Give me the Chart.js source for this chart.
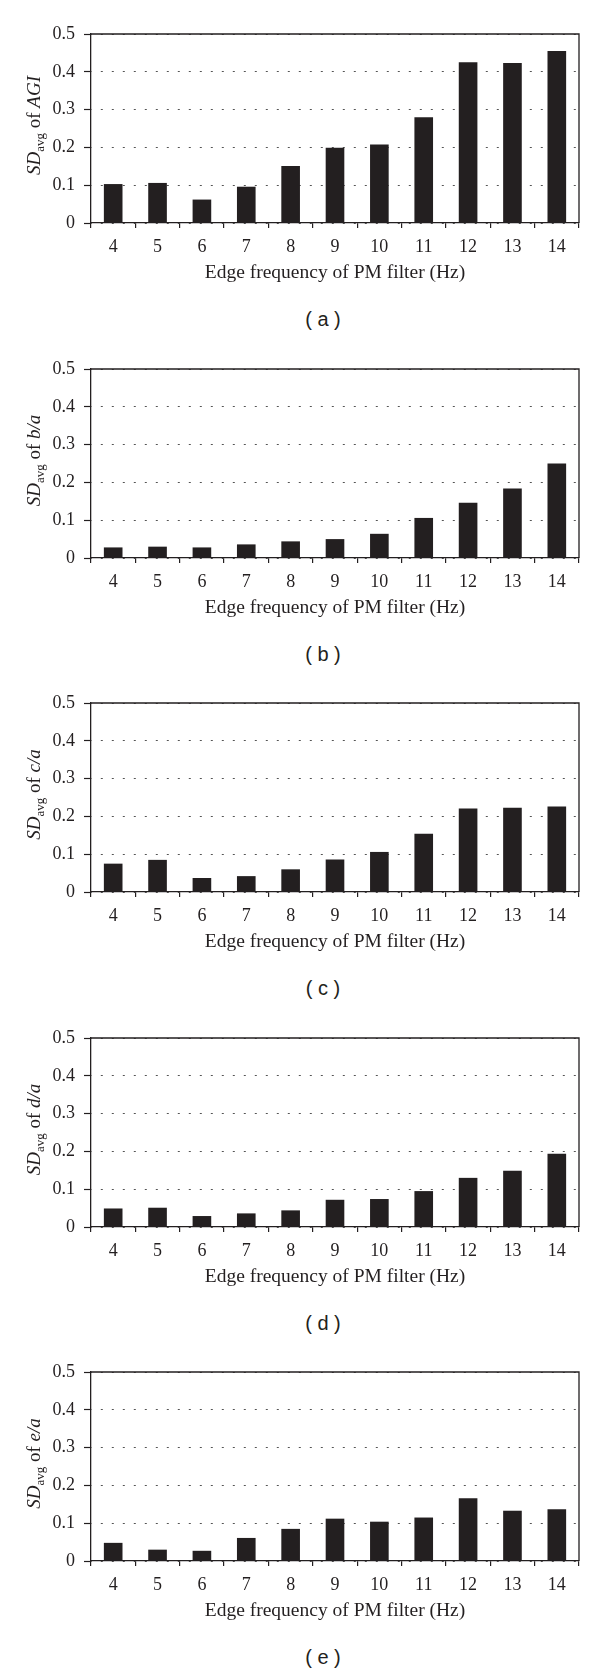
<!DOCTYPE html>
<html>
<head>
<meta charset="utf-8">
<script src="https://cdn.jsdelivr.net/npm/chart.js@4/dist/chart.umd.min.js"></script>
<style>
  body { margin: 0; background: #fff; width: 600px; height: 1677px; position: relative; }
  .panel { position: absolute; left: 0; width: 600px; height: 340px; }
  .panel canvas { position: absolute; left: 0; top: 0; }
  .caption { position: absolute; left: 0; width: 646px; top: 308px; height: 32px; line-height: 32px;
             text-align: center; font: 20px "Liberation Sans", Arial, sans-serif; color: #231f20; }
</style>
</head>
<body>
<script>
// データ
const categories = ["4", "5", "6", "7", "8", "9", "10", "11", "12", "13", "14"];
const sdAgi = [0.103, 0.106, 0.062, 0.096, 0.151, 0.199, 0.208, 0.280, 0.425, 0.423, 0.455];
const sdBa  = [0.028, 0.030, 0.028, 0.036, 0.044, 0.050, 0.064, 0.106, 0.146, 0.184, 0.250];
const sdCa  = [0.075, 0.085, 0.037, 0.042, 0.060, 0.086, 0.106, 0.154, 0.221, 0.223, 0.226];
const sdDa  = [0.049, 0.051, 0.029, 0.036, 0.044, 0.072, 0.074, 0.095, 0.130, 0.149, 0.194];
const sdEa  = [0.048, 0.030, 0.027, 0.061, 0.085, 0.112, 0.104, 0.115, 0.166, 0.133, 0.137];
const yTicks = [0, 0.1, 0.2, 0.3, 0.4, 0.5];
const xTitle = "Edge frequency of PM filter (Hz)";

const panels = [
  { tag: "a", values: sdAgi, of: "AGI" },
  { tag: "b", values: sdBa,  of: "b/a" },
  { tag: "c", values: sdCa,  of: "c/a" },
  { tag: "d", values: sdDa,  of: "d/a" },
  { tag: "e", values: sdEa,  of: "e/a" }
];
const panelTops = [0, 335, 669, 1004, 1338];

const ink = "#231f20";
const serif = "'Liberation Serif', 'DejaVu Serif', serif";

// 枠線（上と右）
const framePlugin = {
  id: "frame",
  afterDraw(chart) {
    const a = chart.chartArea, ctx = chart.ctx;
    ctx.save();
    ctx.strokeStyle = ink;
    ctx.lineWidth = 1.3;
    ctx.beginPath();
    ctx.moveTo(a.left, a.top);
    ctx.lineTo(a.right, a.top);
    ctx.lineTo(a.right, a.bottom);
    ctx.stroke();
    ctx.restore();
  }
};

// 縦軸タイトル SD_avg of ...（斜体・下付きを混ぜるので自前で描く）
const yTitlePlugin = {
  id: "yTitle",
  afterDraw(chart, args, opts) {
    const a = chart.chartArea, ctx = chart.ctx;
    const parts = [
      { t: "SD", f: "italic 19px " + serif, dy: 0 },
      { t: "avg", f: "13px " + serif, dy: 4 },
      { t: " of ", f: "19px " + serif, dy: 0 },
      { t: opts.of, f: "italic 19px " + serif, dy: 0 }
    ];
    let total = 0;
    parts.forEach(p => { ctx.font = p.f; p.w = ctx.measureText(p.t).width; total += p.w; });
    ctx.save();
    ctx.translate(40, (a.top + a.bottom) / 2 - 3);
    ctx.rotate(-Math.PI / 2);
    ctx.fillStyle = ink;
    ctx.textBaseline = "alphabetic";
    let x = -total / 2;
    parts.forEach(p => {
      ctx.font = p.f;
      ctx.fillText(p.t, x, p.dy);
      x += p.w;
    });
    ctx.restore();
  }
};

document.addEventListener("DOMContentLoaded", () => {
  panels.forEach((p, i) => {
    const box = document.createElement("div");
    box.className = "panel";
    box.style.top = panelTops[i] + "px";
    const canvas = document.createElement("canvas");
    canvas.width = 600;
    canvas.height = 300;
    box.appendChild(canvas);
    const cap = document.createElement("div");
    cap.className = "caption";
    cap.textContent = "( " + p.tag + " )";
    box.appendChild(cap);
    document.body.appendChild(box);

    new Chart(canvas.getContext("2d"), {
      type: "bar",
      data: {
        labels: categories,
        datasets: [{
          data: p.values,
          backgroundColor: ink,
          borderWidth: 0,
          barPercentage: 0.42,
          categoryPercentage: 1
        }]
      },
      plugins: [framePlugin, yTitlePlugin],
      options: {
        responsive: false,
        animation: false,
        devicePixelRatio: 1,
        layout: { padding: { top: 34, right: 21, left: 0, bottom: 0 } },
        plugins: {
          legend: { display: false },
          tooltip: { enabled: false },
          yTitle: { of: p.of }
        },
        scales: {
          x: {
            offset: true,
            afterFit: s => { s.height = 77; },
            grid: { display: true, offset: true, drawOnChartArea: false, drawTicks: true,
                    tickLength: 5, color: ink, tickColor: ink, lineWidth: 1.2 },
            border: { display: true, color: ink, width: 1.3 },
            ticks: { color: ink, padding: 8, font: { family: serif, size: 18 }, maxRotation: 0 },
            title: { display: true, text: xTitle, color: ink,
                     font: { family: serif, size: 19.5 }, padding: { top: 0, bottom: 15 } }
          },
          y: {
            min: 0,
            max: 0.5,
            afterFit: s => { s.width = 91; },
            afterBuildTicks: s => { s.ticks = yTicks.map(v => ({ value: v })); },
            grid: { display: true, drawOnChartArea: true, drawTicks: true, tickLength: 7,
                    color: "#555", tickColor: ink, lineWidth: 1, tickWidth: 1.2,
                    tickBorderDash: [], tickBorderDashOffset: 0 },
            border: { display: true, color: ink, width: 1.3, dash: [2, 9], dashOffset: 1.5 },
            ticks: {
              color: ink, padding: 9, font: { family: serif, size: 18 },
              callback: v => (v === 0 ? "0" : v.toFixed(1))
            }
          }
        }
      }
    });
  });
});
</script>
</body>
</html>
